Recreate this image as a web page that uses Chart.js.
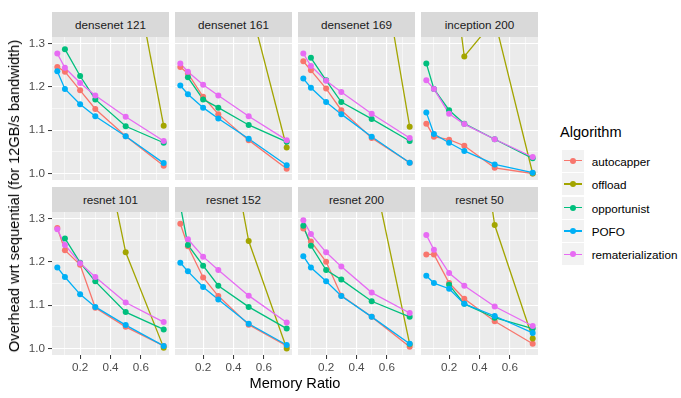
<!DOCTYPE html>
<html>
<head>
<meta charset="utf-8">
<script src="https://cdn.jsdelivr.net/npm/chart.js@4.4.1/dist/chart.umd.min.js"></script>
<style>
  body { margin: 0; background: #fff; font-family: "Liberation Sans", Arial, sans-serif; }
  #wrap { position: relative; width: 681px; height: 398px; overflow: hidden; }
  #wrap canvas { position: absolute; }
  .strip { position: absolute; background: #d9d9d9; color: #1a1a1a; font-size: 11.7px;
           text-align: center; }
  .title { position: absolute; color: #000; font-size: 14.6px; white-space: nowrap; }
  .key { position: absolute; width: 22px; height: 22px; background: #f2f2f2; }
  .key .ln { position: absolute; left: 2px; top: 10.4px; width: 18px; height: 1.3px; }
  .key .pt { position: absolute; left: 8px; top: 8px; width: 6px; height: 6px; border-radius: 50%; }
  .lab { position: absolute; font-size: 11.7px; color: #000; white-space: nowrap; }
</style>
</head>
<body>
<div id="wrap"></div>
<script>
// memory ratio (x) shared by every panel
const memoryRatio = [0.05, 0.1, 0.2, 0.3, 0.5, 0.75];
const panels = ['densenet 121', 'densenet 161', 'densenet 169', 'inception 200',
                'resnet 101', 'resnet 152', 'resnet 200', 'resnet 50'];
const algorithms = ['autocapper', 'offload', 'opportunist', 'POFO', 'rematerialization'];
const colors = ['#F8766D', '#A3A500', '#00BF7D', '#00B0F6', '#E76BF3'];

const xTicks = [0.2, 0.4, 0.6];
const xMinor = [0.1, 0.3, 0.5, 0.7];
const yTicks = [1.0, 1.1, 1.2, 1.3];
const yMinor = [1.05, 1.15, 1.25];

// overhead per panel (same order as panels), null = no point
const autocapper = [
  [1.246, 1.235, 1.192, 1.149, 1.086, 1.018],
  [1.246, 1.231, 1.177, 1.137, 1.077, 1.011],
  [1.259, 1.238, 1.196, 1.146, 1.082, 1.025],
  [1.115, 1.085, 1.078, 1.064, 1.013, 1.000],
  [1.278, 1.227, 1.193, 1.094, 1.050, 1.006],
  [1.288, 1.236, 1.164, 1.121, 1.055, 1.006],
  [1.277, 1.247, 1.200, 1.122, 1.073, 1.004],
  [1.217, 1.217, 1.151, 1.115, 1.063, 1.011]
];
const offload = [
  [null, null, null, null, 1.57, 1.110],
  [null, null, null, null, 1.40, 1.060],
  [null, null, null, null, 1.62, 1.108],
  [null, null, 1.54, 1.27, 1.355, 1.000],
  [null, null, null, 1.56, 1.222, 1.002],
  [null, null, null, 1.62, 1.248, 1.000],
  [null, null, null, null, 1.425, 1.010],
  [null, null, null, 1.75, 1.285, 1.023]
];
const opportunist = [
  [null, 1.287, 1.225, 1.171, 1.109, 1.071],
  [null, 1.222, 1.171, 1.152, 1.112, 1.073],
  [null, 1.267, 1.215, 1.165, 1.126, 1.075],
  [1.254, 1.195, 1.146, 1.115, 1.079, 1.035],
  [null, 1.254, 1.198, 1.155, 1.084, 1.044],
  [1.33, 1.239, 1.191, 1.145, 1.096, 1.046],
  [1.283, 1.237, 1.181, 1.159, 1.109, 1.073],
  [null, null, 1.147, 1.103, 1.071, 1.046]
];
const pofo = [
  [1.236, 1.195, 1.160, 1.132, 1.086, 1.024],
  [1.203, 1.183, 1.152, 1.127, 1.080, 1.019],
  [1.219, 1.198, 1.165, 1.137, 1.085, 1.025],
  [1.141, 1.091, 1.071, 1.052, 1.021, 1.002],
  [1.187, 1.165, 1.125, 1.096, 1.054, 1.006],
  [1.198, 1.178, 1.142, 1.113, 1.057, 1.008],
  [1.213, 1.187, 1.155, 1.121, 1.073, 1.011],
  [1.168, 1.151, 1.138, 1.103, 1.075, 1.036]
];
const rematerialization = [
  [1.277, 1.244, 1.209, 1.180, 1.131, 1.075],
  [1.254, 1.235, 1.205, 1.180, 1.132, 1.077],
  [1.277, 1.248, 1.214, 1.188, 1.138, 1.082],
  [1.215, 1.195, 1.138, 1.114, 1.079, 1.038],
  [1.275, 1.239, 1.197, 1.165, 1.106, 1.061],
  [null, 1.252, 1.212, 1.181, 1.122, 1.060],
  [1.296, 1.264, 1.222, 1.189, 1.129, 1.082],
  [1.262, 1.228, 1.174, 1.145, 1.097, 1.052]
];
const seriesData = [autocapper, offload, opportunist, pofo, rematerialization];

// layout
const panelLeft = [52, 175, 298, 421];
const panelW = 117;
const rowTop = [37, 212];
const panelH = 143;
const stripH = 25;
const yAxisW = 52;
const xAxisH = 28;

const wrap = document.getElementById('wrap');

const panelBg = {
  id: 'panelBg',
  beforeDraw(chart) {
    const { ctx, chartArea: a } = chart;
    ctx.save();
    ctx.fillStyle = '#ebebeb';
    ctx.fillRect(a.left, a.top, a.right - a.left, a.bottom - a.top);
    ctx.restore();
  }
};

function near(list, v) {
  return list.some(t => Math.abs(t - v) < 1e-6);
}

// stop chart.js from reserving room for half tick labels
function noPad(a) {
  a.paddingTop = 0; a.paddingBottom = 0; a.paddingLeft = 0; a.paddingRight = 0;
}

function makePanel(p) {
  const col = p % 4, row = Math.floor(p / 4);
  const isLeft = col === 0, isBottom = row === 1;

  const strip = document.createElement('div');
  strip.className = 'strip';
  strip.style.left = panelLeft[col] + 'px';
  strip.style.top = (rowTop[row] - stripH) + 'px';
  strip.style.width = panelW + 'px';
  strip.style.height = stripH + 'px';
  strip.style.lineHeight = stripH + 'px';
  strip.textContent = panels[p];
  wrap.appendChild(strip);

  const cv = document.createElement('canvas');
  const w = panelW + (isLeft ? yAxisW : 0);
  const h = panelH + (isBottom ? xAxisH : 0);
  cv.width = w; cv.height = h;
  cv.style.width = w + 'px'; cv.style.height = h + 'px';
  cv.style.left = (panelLeft[col] - (isLeft ? yAxisW : 0)) + 'px';
  cv.style.top = rowTop[row] + 'px';
  wrap.appendChild(cv);

  // lines first, points on top (like geom_line + geom_point)
  const datasets = [];
  algorithms.forEach((name, i) => {
    const pts = memoryRatio.map((x, j) => ({ x: x, y: seriesData[i][p][j] }));
    datasets.push({
      label: name, data: pts, borderColor: colors[i], backgroundColor: colors[i],
      borderWidth: 1.3, pointRadius: 0, order: 20 - i
    });
    datasets.push({
      label: name, data: pts, borderColor: colors[i], backgroundColor: colors[i],
      showLine: false, pointRadius: 3, pointBorderWidth: 0, order: 10 - i
    });
  });

  new Chart(cv, {
    type: 'line',
    data: { datasets: datasets },
    plugins: [panelBg],
    options: {
      responsive: false,
      maintainAspectRatio: false,
      devicePixelRatio: 1,
      animation: false,
      layout: { padding: 0, autoPadding: false },
      plugins: { legend: { display: false }, tooltip: { enabled: false } },
      scales: {
        x: {
          type: 'linear', min: 0.015, max: 0.785,
          afterBuildTicks: a => { a.ticks = [...xTicks, ...xMinor].sort((m, n) => m - n).map(v => ({ value: v })); },
          afterFit: a => { a.height = isBottom ? xAxisH : 0; noPad(a); },
          border: { display: false },
          grid: {
            color: '#ffffff',
            lineWidth: c => near(xTicks, c.tick.value) ? 1.1 : 0.55,
            drawTicks: isBottom, tickLength: 4, tickWidth: 1,
            tickColor: c => near(xTicks, c.tick.value) ? '#333333' : 'rgba(0,0,0,0)'
          },
          ticks: {
            display: isBottom, autoSkip: false, maxRotation: 0, padding: 2,
            color: '#4d4d4d', font: { family: '"Liberation Sans", Arial, sans-serif', size: 11.7 },
            callback: v => near(xTicks, v) ? v.toFixed(1) : ''
          }
        },
        y: {
          type: 'linear', min: 0.985, max: 1.315,
          afterBuildTicks: a => { a.ticks = [...yTicks, ...yMinor].sort((m, n) => m - n).map(v => ({ value: v })); },
          afterFit: a => { a.width = isLeft ? yAxisW : 0; noPad(a); },
          border: { display: false },
          grid: {
            color: '#ffffff',
            lineWidth: c => near(yTicks, c.tick.value) ? 1.1 : 0.55,
            drawTicks: isLeft, tickLength: 4, tickWidth: 1,
            tickColor: c => near(yTicks, c.tick.value) ? '#333333' : 'rgba(0,0,0,0)'
          },
          ticks: {
            display: isLeft, autoSkip: false, padding: 3,
            color: '#4d4d4d', font: { family: '"Liberation Sans", Arial, sans-serif', size: 11.7 },
            callback: v => near(yTicks, v) ? v.toFixed(1) : ''
          }
        }
      }
    }
  });
}

panels.forEach((_, p) => makePanel(p));

// axis titles
const xt = document.createElement('div');
xt.className = 'title';
xt.textContent = 'Memory Ratio';
xt.style.left = ((panelLeft[0] + panelLeft[3] + panelW) / 2) + 'px';
xt.style.top = '383px';
xt.style.transform = 'translate(-50%, -50%)';
wrap.appendChild(xt);

const yt = document.createElement('div');
yt.className = 'title';
yt.textContent = 'Overhead wrt sequential (for 12GB/s bandwidth)';
yt.style.left = '14px';
yt.style.top = ((rowTop[0] + rowTop[1] + panelH) / 2) + 'px';
yt.style.transform = 'translate(-50%, -50%) rotate(-90deg)';
wrap.appendChild(yt);

// legend
const lt = document.createElement('div');
lt.className = 'title';
lt.textContent = 'Algorithm';
lt.style.left = '560px';
lt.style.top = '124px';
wrap.appendChild(lt);

algorithms.forEach((name, i) => {
  const cy = 160.7 + i * 23.4;
  const key = document.createElement('div');
  key.className = 'key';
  key.style.left = '562px';
  key.style.top = (cy - 11) + 'px';
  key.innerHTML = '<div class="ln" style="background:' + colors[i] + '"></div>' +
                  '<div class="pt" style="background:' + colors[i] + '"></div>';
  wrap.appendChild(key);
  const lab = document.createElement('div');
  lab.className = 'lab';
  lab.textContent = name;
  lab.style.left = '591.7px';
  lab.style.top = cy + 'px';
  lab.style.transform = 'translateY(-50%)';
  wrap.appendChild(lab);
});
</script>
</body>
</html>
